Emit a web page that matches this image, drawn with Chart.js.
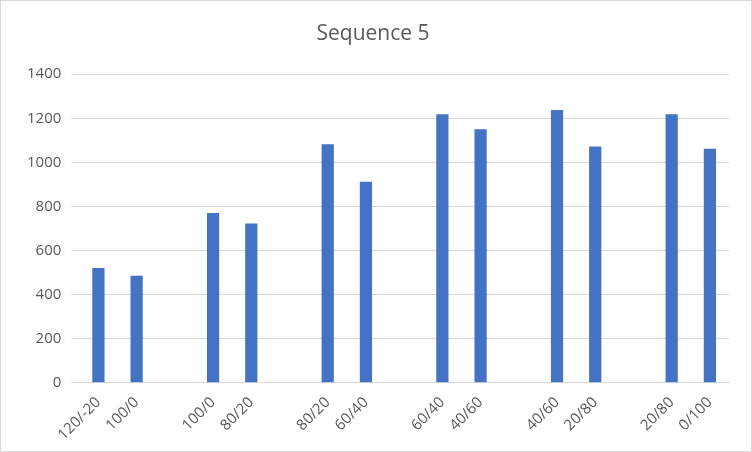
<!DOCTYPE html>
<html><head><meta charset="utf-8">
<script src="https://cdn.jsdelivr.net/npm/chart.js@4"></script>
<style>html,body{margin:0;padding:0;background:#fff}#w{width:750px;height:450px;border:1px solid #d9d9d9;position:relative}</style>
</head><body><div id="w"><canvas id="c"></canvas></div>
<script>
const categories = ['120/-20','100/0','','100/0','80/20','','80/20','60/40','','60/40','40/60','','40/60','20/80','','20/80','0/100'];
const values = [520,485,null,770,722,null,1082,912,null,1218,1150,null,1238,1072,null,1218,1062];
const yTicks = [0,200,400,600,800,1000,1200,1400];
new Chart(document.getElementById('c'),{
 type:'bar',
 data:{labels:categories,datasets:[{data:values,backgroundColor:'#4472C4',barPercentage:0.32,categoryPercentage:1}]},
 options:{responsive:true,maintainAspectRatio:false,animation:false,
  layout:{padding:{left:16,right:22,top:6,bottom:4}},
  plugins:{legend:{display:false},tooltip:{enabled:false},
   title:{display:true,text:'Sequence 5',color:'#595959',font:{family:'"Open Sans", "Liberation Sans", sans-serif',size:21,weight:'normal'},padding:{top:14,bottom:28}}},
  scales:{
   x:{grid:{display:false},border:{color:'#d9d9d9'},ticks:{color:'#595959',font:{size:15,family:'"Open Sans", sans-serif'},maxRotation:45,minRotation:45,autoSkip:false}},
   y:{min:0,max:1400,afterBuildTicks:a=>{a.ticks=yTicks.map(v=>({value:v}));},grid:{color:'#d9d9d9'},border:{display:false},ticks:{color:'#595959',font:{size:15,family:'"Open Sans", sans-serif'},padding:10,callback:v=>String(v)}}
  }}
});
</script></body></html>
